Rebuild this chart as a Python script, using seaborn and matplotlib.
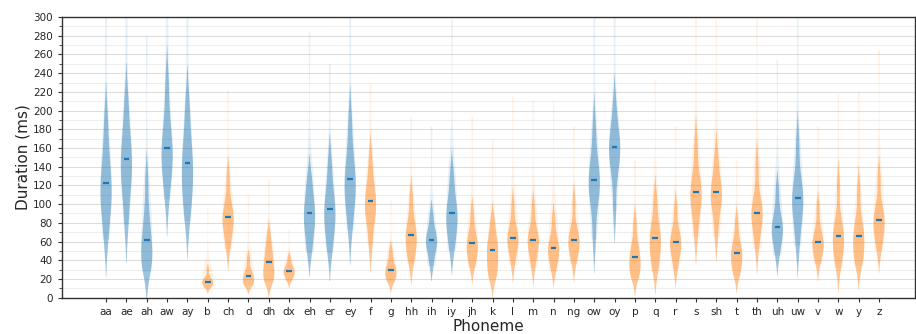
import numpy as np
import pandas as pd
import matplotlib
matplotlib.use("Agg")
import matplotlib.pyplot as plt
import seaborn as sns
from matplotlib.ticker import MultipleLocator

phonemes = ["aa", "ae", "ah", "aw", "ay", "b", "ch", "d", "dh", "dx", "eh", "er", "ey",
            "f", "g", "hh", "ih", "iy", "jh", "k", "l", "m", "n", "ng", "ow", "oy",
            "p", "q", "r", "s", "sh", "t", "th", "uh", "uw", "v", "w", "y", "z"]
vowels = ["aa", "ae", "ah", "aw", "ay", "eh", "er", "ey", "ih", "iy", "ow", "oy", "uh", "uw"]

# representative durations (ms) per phoneme
samples = {
    "aa": [62, 88, 102, 112, 123, 138, 158, 190],
    "ae": [78, 108, 125, 138, 148, 162, 180, 210],
    "ah": [28, 37, 44, 52, 62, 75, 92, 125],
    "aw": [105, 128, 142, 152, 160, 175, 195, 230],
    "ay": [82, 105, 118, 132, 144, 158, 178, 208],
    "b": [10, 13, 15, 16, 17, 19, 22, 30],
    "ch": [52, 66, 76, 82, 86, 93, 104, 128],
    "d": [13, 15, 17, 20, 23, 26, 31, 42],
    "dh": [17, 21, 25, 31, 38, 45, 53, 66],
    "dx": [18, 22, 25, 27, 29, 31, 35, 42],
    "eh": [48, 64, 75, 84, 91, 100, 112, 128],
    "er": [48, 66, 78, 87, 95, 106, 120, 145],
    "ey": [72, 95, 108, 118, 127, 140, 158, 190],
    "f": [55, 78, 90, 97, 103, 112, 125, 148],
    "g": [16, 21, 24, 27, 30, 34, 40, 50],
    "hh": [36, 48, 56, 62, 67, 75, 86, 108],
    "ih": [34, 46, 54, 58, 62, 67, 74, 88],
    "iy": [50, 65, 75, 83, 90, 99, 111, 132],
    "jh": [32, 42, 48, 53, 58, 64, 72, 90],
    "k": [21, 28, 36, 44, 51, 58, 66, 82],
    "l": [35, 48, 56, 60, 64, 70, 78, 98],
    "m": [32, 45, 53, 58, 62, 68, 76, 96],
    "n": [28, 38, 45, 49, 53, 59, 67, 84],
    "ng": [36, 47, 54, 58, 62, 68, 77, 102],
    "ow": [62, 96, 112, 120, 126, 136, 152, 182],
    "oy": [92, 128, 145, 154, 161, 169, 180, 205],
    "p": [21, 27, 32, 38, 44, 51, 60, 80],
    "q": [28, 40, 50, 57, 64, 72, 83, 106],
    "r": [30, 43, 51, 56, 60, 66, 75, 95],
    "s": [65, 88, 100, 107, 113, 122, 136, 165],
    "sh": [65, 88, 100, 107, 113, 120, 132, 152],
    "t": [23, 31, 38, 43, 48, 54, 62, 80],
    "th": [52, 70, 81, 87, 91, 99, 112, 142],
    "uh": [45, 58, 66, 71, 76, 83, 94, 115],
    "uw": [55, 78, 92, 100, 107, 117, 132, 165],
    "v": [36, 46, 52, 56, 60, 66, 75, 96],
    "w": [32, 45, 54, 60, 66, 74, 86, 120],
    "y": [34, 43, 52, 59, 66, 74, 86, 115],
    "z": [50, 63, 72, 78, 83, 90, 101, 128],
}

# faint upper tail ends (ms)
tail_top = [300, 300, 280, 300, 300, 97, 222, 111, 126, 72, 283, 250, 300,
            229, 104, 193, 183, 297, 193, 169, 215, 211, 211, 183, 300, 300,
            147, 233, 183, 300, 297, 147, 300, 254, 300, 183, 218, 222, 265]

# medians (ms)
medians = [123, 148, 62, 160, 144, 17, 86, 23, 38, 29, 91, 95, 127,
           103, 30, 67, 62, 90, 58, 51, 64, 62, 53, 62, 126, 161,
           44, 64, 60, 113, 113, 48, 91, 76, 107, 60, 66, 66, 83]

BLUE = "#1f77b4"
ORANGE = "#ff7f0e"

rows_core, rows_tail = [], []
for ph, top in zip(phonemes, tail_top):
    kind = "vowel" if ph in vowels else "consonant"
    for v in samples[ph]:
        rows_core.append((ph, v, kind))
        rows_tail.append((ph, v, kind))
    rows_tail.append((ph, top, kind))
core = pd.DataFrame(rows_core, columns=["Phoneme", "Duration", "kind"])
tail = pd.DataFrame(rows_tail, columns=["Phoneme", "Duration", "kind"])

sns.set_style("ticks")
plt.rcParams["font.family"] = ["DejaVu Sans"]

fig = plt.figure(figsize=(9.16, 3.34), dpi=100)
ax = fig.add_axes([0.0674, 0.1087, 0.9316, 0.8403])

pal = {"vowel": BLUE, "consonant": ORANGE}
common = dict(x="Phoneme", y="Duration", hue="kind", order=phonemes,
              hue_order=["vowel", "consonant"], palette=pal, dodge=False,
              inner=None, density_norm="width", width=0.55,
              linewidth=0, saturation=1, legend=False, ax=ax)

n0 = len(ax.collections)
sns.violinplot(data=tail, bw_adjust=0.9, cut=0, **common)
n1 = len(ax.collections)
for c in ax.collections[n0:n1]:
    c.set_alpha(0.10)
    c.set_edgecolor("none")
sns.violinplot(data=core, bw_adjust=0.75, cut=2, **common)
for c in ax.collections[n1:]:
    c.set_alpha(0.44)
    c.set_edgecolor("none")

idx = np.arange(len(phonemes))
ax.hlines(medians, idx - 0.14, idx + 0.14, color=BLUE, lw=1.6, zorder=5)

ax.set_xlim(-2.18, 39.77)
ax.set_ylim(0, 300)
ax.yaxis.set_major_locator(MultipleLocator(20))
ax.yaxis.set_minor_locator(MultipleLocator(10))
ax.grid(axis="y", which="major", color="#dddddd", lw=0.8, zorder=0)
ax.grid(axis="y", which="minor", color="#eeeeee", lw=0.8, zorder=0)
ax.set_axisbelow(True)
ax.tick_params(axis="both", which="major", labelsize=7.5, length=3, color="#333333")
ax.tick_params(axis="y", which="minor", length=2, color="#333333")
for s in ax.spines.values():
    s.set_color("#333333")
    s.set_linewidth(1.0)
ax.set_xlabel("Phoneme", fontsize=11, labelpad=2)
ax.set_ylabel("Duration (ms)", fontsize=11, labelpad=2)

fig.savefig("out.png", dpi=100)
